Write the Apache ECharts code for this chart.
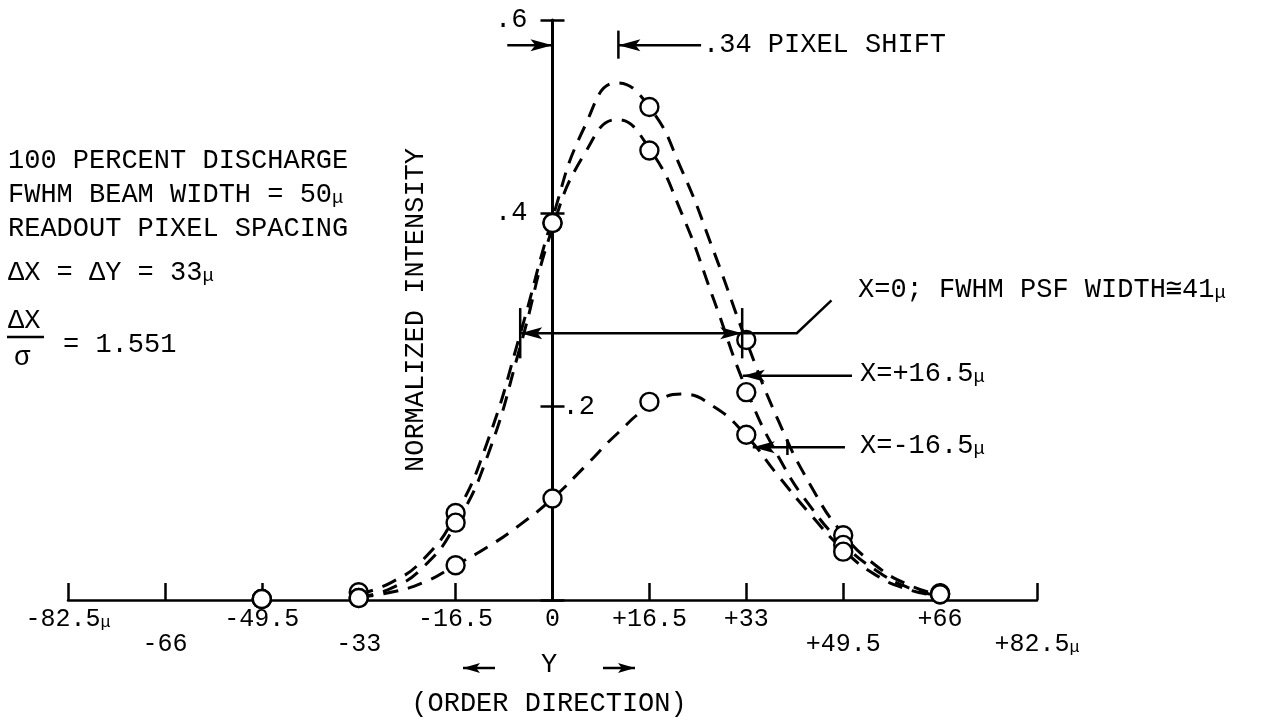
<!DOCTYPE html>
<html>
<head>
<meta charset="utf-8">
<script src="https://cdn.jsdelivr.net/npm/echarts@6/dist/echarts.min.js"></script>
<style>
  html, body { margin: 0; padding: 0; background: #fff; }
  #chart { width: 1276px; height: 722px; }
</style>
</head>
<body>
<div id="chart"></div>
<script>
// Positions along Y (microns) where the fitted dashed profiles are sampled
const curveAt = [-33, -27.5, -22, -16.5, -11, -5.5, 0, 5.5, 11, 16.5, 22, 27.5, 33, 38.5, 44, 49.5, 55, 60.5, 66];
// Fitted profiles, normalized intensity
const curveX0     = [0.006, 0.018, 0.042, 0.088, 0.165, 0.275, 0.395, 0.490, 0.535, 0.510, 0.445, 0.360, 0.268, 0.185, 0.118, 0.068, 0.036, 0.016, 0.005];
const curveXplus  = [0.003, 0.012, 0.034, 0.078, 0.150, 0.262, 0.385, 0.462, 0.497, 0.467, 0.400, 0.310, 0.218, 0.148, 0.096, 0.058, 0.031, 0.013, 0.004];
const curveXminus = [0.003, 0.008, 0.018, 0.036, 0.055, 0.078, 0.105, 0.138, 0.172, 0.200, 0.213, 0.200, 0.170, 0.128, 0.088, 0.052, 0.026, 0.011, 0.004];

// Readout pixel centres and measured intensities
const pixelAt      = [-49.5, -33, -16.5, 0, 16.5, 33, 49.5, 66];
const pixelX0      = [0.001, 0.008, 0.090, 0.390, 0.510, 0.269, 0.067, 0.007];
const pixelXplus   = [0.001, 0.002, 0.080, 0.390, 0.465, 0.215, 0.057, 0.006];
const pixelXminus  = [0.001, 0.002, 0.036, 0.105, 0.205, 0.171, 0.050, 0.006];

// Axis tick labels
const xTickLabels = ['-82.5', '-66', '-49.5', '-33', '-16.5', '0', '+16.5', '+33', '+49.5', '+66', '+82.5'];
const xTickMicro  = [0, 10];          // labels carrying the micron sign
const xTickLower  = [1, 3, 8, 10];    // labels typed on the second row
const yTickLabels = ['', '.2', '.4', '.6'];
const yTickRight  = [1];              // labels typed to the right of the axis

const X_MIN = -82.5, X_MAX = 82.5, X_STEP = 16.5;
const Y_MIN = 0, Y_MAX = 0.6, Y_STEP = 0.2;

const W = 1276, H = 722;
const PLOT = { left: 68, right: 239, top: 20, bottom: 122 };
const plotWidth = W - PLOT.left - PLOT.right;
// the intensity axis stands at Y = 0
const zeroX = PLOT.left + (0 - X_MIN) / (X_MAX - X_MIN) * plotWidth;

const FONT = '"Liberation Mono", "DejaVu Sans Mono", monospace';
const INK = '#000';

const pairs = (xs, ys) => xs.map((x, i) => [x, ys[i]]);

function xLabel(lowerRow) {
  return function (v) {
    const i = Math.round((v - X_MIN) / X_STEP);
    if (i < 0 || i >= xTickLabels.length) return '';
    const lower = xTickLower.indexOf(i) >= 0;
    if (lower !== lowerRow) return '';
    return xTickMicro.indexOf(i) >= 0 ? '{t|' + xTickLabels[i] + '}{m|μ}' : '{t|' + xTickLabels[i] + '}';
  };
}
function yLabel(rightSide) {
  return function (v) {
    const i = Math.round((v - Y_MIN) / Y_STEP);
    const right = yTickRight.indexOf(i) >= 0;
    if (right !== rightSide) return '';
    return yTickLabels[i] || '';
  };
}

const tickRich = {
  t: { fontFamily: FONT, fontSize: 25, color: INK },
  m: { fontFamily: FONT, fontSize: 17, color: INK, padding: [6, 0, 0, 0] }
};

const baseX = { type: 'value', min: X_MIN, max: X_MAX, interval: X_STEP, splitLine: { show: false }, gridIndex: 0 };
const baseY = { type: 'value', min: Y_MIN, max: Y_MAX, interval: Y_STEP, splitLine: { show: false } };

const dashed = { color: INK, width: 3, type: [15, 10], cap: 'butt' };
const ring = { color: '#fff', borderColor: INK, borderWidth: 2.4, opacity: 1 };

const chart = echarts.init(document.getElementById('chart'));

chart.setOption({
  animation: false,
  backgroundColor: '#fff',
  grid: [
    Object.assign({ outerBoundsMode: 'none', containLabel: false }, PLOT),
    { outerBoundsMode: 'none', containLabel: false, left: zeroX, width: 100, top: PLOT.top, bottom: PLOT.bottom }
  ],
  xAxis: [
    Object.assign({}, baseX, {
      axisLine: { onZero: false, lineStyle: { color: INK, width: 2.5 } },
      axisTick: { inside: true, length: 17, lineStyle: { color: INK, width: 2.5 } },
      axisLabel: { margin: 7, formatter: xLabel(false), rich: tickRich }
    }),
    Object.assign({}, baseX, {
      position: 'bottom',
      axisLine: { show: false, onZero: false },
      axisTick: { show: false },
      axisLabel: { margin: 32, formatter: xLabel(true), rich: tickRich }
    }),
    { type: 'value', gridIndex: 1, min: -1, max: 1, show: false }
  ],
  yAxis: [
    // intensity axis drawn at Y = 0: line, left half of the cross ticks, left labels, title
    Object.assign({}, baseY, {
      gridIndex: 1, position: 'left',
      axisLine: { onZero: false, lineStyle: { color: INK, width: 3 } },
      axisTick: { length: 12, lineStyle: { color: INK, width: 2.5 } },
      axisLabel: { margin: 25, formatter: yLabel(false), fontFamily: FONT, fontSize: 27, color: INK },
      name: 'NORMALIZED INTENSITY', nameLocation: 'middle', nameGap: 123, nameRotate: 90,
      nameTextStyle: { fontFamily: FONT, fontSize: 27, color: INK }
    }),
    // right half of the cross ticks and the right-hand label
    Object.assign({}, baseY, {
      gridIndex: 1, position: 'left',
      axisLine: { show: false, onZero: false },
      axisTick: { inside: true, length: 12, lineStyle: { color: INK, width: 2.5 } },
      axisLabel: { inside: true, margin: 10, formatter: yLabel(true), fontFamily: FONT, fontSize: 27, color: INK, padding: [12, 0, 0, 0] }
    }),
    // scale used by the profiles
    Object.assign({}, baseY, { gridIndex: 0, show: false })
  ],
  series: [
    { name: 'X=0', type: 'line', xAxisIndex: 0, yAxisIndex: 2, data: pairs(curveAt, curveX0), smooth: true, symbol: 'none', lineStyle: dashed, z: 2, silent: true },
    { name: 'X=+16.5μ', type: 'line', xAxisIndex: 0, yAxisIndex: 2, data: pairs(curveAt, curveXplus), smooth: true, symbol: 'none', lineStyle: dashed, z: 2, silent: true },
    { name: 'X=-16.5μ', type: 'line', xAxisIndex: 0, yAxisIndex: 2, data: pairs(curveAt, curveXminus), smooth: true, symbol: 'none', lineStyle: dashed, z: 2, silent: true },
    { name: 'X=0 pixels', type: 'scatter', xAxisIndex: 0, yAxisIndex: 2, data: pairs(pixelAt, pixelX0), symbol: 'circle', symbolSize: 18, itemStyle: ring, z: 5, clip: false, silent: true },
    { name: 'X=+16.5μ pixels', type: 'scatter', xAxisIndex: 0, yAxisIndex: 2, data: pairs(pixelAt, pixelXplus), symbol: 'circle', symbolSize: 18, itemStyle: ring, z: 5, clip: false, silent: true },
    { name: 'X=-16.5μ pixels', type: 'scatter', xAxisIndex: 0, yAxisIndex: 2, data: pairs(pixelAt, pixelXminus), symbol: 'circle', symbolSize: 18, itemStyle: ring, z: 5, clip: false, silent: true }
  ]
});

// ---- annotations (arrows given in data units, converted through the grid scales) ----
const shift = 0.34 * 33;      // .34 pixel shift in microns
const halfLevel = 0.276;      // half-maximum level of the X=0 profile
const fwhmLeft = -5.5, fwhmRight = 32.3;

const P = (p) => chart.convertToPixel({ xAxisIndex: 0, yAxisIndex: 2 }, p);

function seg(a, b, w) {
  return { type: 'line', silent: true, z: 20, shape: { x1: a[0], y1: a[1], x2: b[0], y2: b[1] }, style: { stroke: INK, lineWidth: w || 2.5 } };
}
function poly(pts, w) {
  return { type: 'polyline', silent: true, z: 20, shape: { points: pts }, style: { stroke: INK, lineWidth: w || 2.5, fill: null } };
}
function head(tip, from, L, Wd) {
  L = L || 22; Wd = Wd || 6;
  const dx = tip[0] - from[0], dy = tip[1] - from[1], d = Math.hypot(dx, dy);
  const ux = dx / d, uy = dy / d, nx = -uy, ny = ux, N = L * 0.78;
  return {
    type: 'polygon', silent: true, z: 21,
    shape: { points: [
      [tip[0], tip[1]],
      [tip[0] - ux * L + nx * Wd, tip[1] - uy * L + ny * Wd],
      [tip[0] - ux * N, tip[1] - uy * N],
      [tip[0] - ux * L - nx * Wd, tip[1] - uy * L - ny * Wd]
    ] },
    style: { fill: INK }
  };
}
function arrow(fromD, toD) {
  const a = P(fromD), b = P(toD);
  return [seg(a, b), head(b, a)];
}
function txt(x, y, text, opts) {
  return {
    type: 'text', silent: true, z: 30, x: x, y: y,
    style: Object.assign({
      text: text, fill: INK, font: '27px ' + FONT, verticalAlign: 'middle',
      rich: {
        m: { fontFamily: FONT, fontSize: 19, fill: INK, padding: [5, 0, 0, 0] },
        t: { fontFamily: FONT, fontSize: 27, fill: INK }
      }
    }, opts || {})
  };
}

const g = [];
// pixel-shift markers across the top
g.push(...arrow([-7.7, 0.574], [0, 0.574]));
g.push(seg(P([shift, 0.589]), P([shift, 0.560])));
g.push(...arrow([25.3, 0.574], [shift, 0.574]));
// full width at half maximum of the X=0 profile
g.push(seg(P([fwhmLeft, halfLevel]), P([fwhmRight, halfLevel])));
g.push(head(P([fwhmLeft, halfLevel]), P([fwhmLeft + 4, halfLevel])));
g.push(head(P([fwhmRight, halfLevel]), P([fwhmRight - 4, halfLevel])));
g.push(seg(P([fwhmLeft, halfLevel + 0.026]), P([fwhmLeft, halfLevel - 0.026])));
g.push(seg(P([fwhmRight, halfLevel + 0.026]), P([fwhmRight, halfLevel - 0.026])));
g.push(poly([P([fwhmRight, halfLevel]), P([41.6, halfLevel]), P([47.5, 0.31])]));
// pointers to the off-centre rows
g.push(...arrow([51.0, 0.232], [32.4, 0.232]));
g.push(...arrow([49.8, 0.158], [34.1, 0.158]));
g.push(seg(P([40.0, 0.150]), P([40.0, 0.166])));

// direction arrows beside the Y axis title
g.push(seg([495, 668], [463, 668]), head([463, 668], [495, 668], 17, 5));
g.push(seg([603, 668], [635, 668]), head([635, 668], [603, 668], 17, 5));

// texts
g.push(txt(703, 45, '.34 PIXEL SHIFT'));
g.push(txt(858, 290, '{t|X=0; FWHM PSF WIDTH≅41}{m|μ}'));
g.push(txt(860, 374, '{t|X=+16.5}{m|μ}'));
g.push(txt(860, 446, '{t|X=-16.5}{m|μ}'));
g.push(txt(549, 665, 'Y', { align: 'center' }));
g.push(txt(549, 704, '(ORDER DIRECTION)', { align: 'center' }));

g.push(txt(8, 161, '100 PERCENT DISCHARGE'));
g.push(txt(8, 195, '{t|FWHM BEAM WIDTH = 50}{m|μ}'));
g.push(txt(8, 229, 'READOUT PIXEL SPACING'));
g.push(txt(8, 273, '{t|ΔX = ΔY = 33}{m|μ}'));
g.push(txt(8, 321, 'ΔX'));
g.push(seg([7, 337], [44, 337], 2.5));
g.push(txt(14, 358, 'σ'));
g.push(txt(63, 345, '= 1.551'));

chart.setOption({ graphic: { elements: g } });
</script>
</body>
</html>
